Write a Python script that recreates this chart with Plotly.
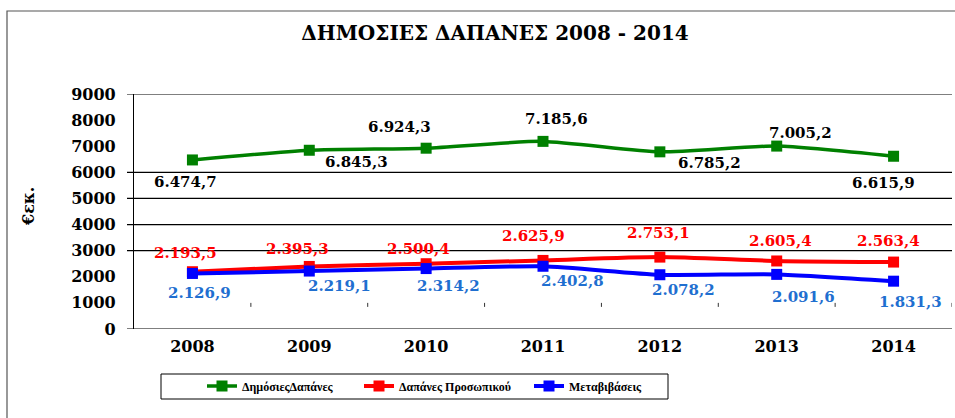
import plotly.graph_objects as go

# ---------------- data ----------------
YEARS = ["2008", "2009", "2010", "2011", "2012", "2013", "2014"]
PUBLIC_SPENDING = [6474.7, 6845.3, 6924.3, 7185.6, 6785.2, 7005.2, 6615.9]
PERSONNEL_COSTS = [2193.5, 2395.3, 2500.4, 2625.9, 2753.1, 2605.4, 2563.4]
TRANSFERS = [2126.9, 2219.1, 2314.2, 2402.8, 2078.2, 2091.6, 1831.3]
Y_TICKS = [0, 1000, 2000, 3000, 4000, 5000, 6000, 7000, 8000, 9000]
GRID_VALUES = [0, 3000, 4000, 5000, 6000, 9000]
SERIES_NAMES = ["ΔημόσιεςΔαπάνες", "Δαπάνες Προσωπικού", "Μεταβιβάσεις"]
TITLE = "ΔΗΜΟΣΙΕΣ ΔΑΠΑΝΕΣ 2008 - 2014"
Y_TITLE = "€εκ."

# ---------------- styling ----------------
W, H = 955, 418
ML, MR, MT, MB = 134, 3, 94, 89
PW = W - ML - MR
PH = H - MT - MB

LINE_COLORS = ["#008000", "#FF0000", "#0000FF"]
LABEL_COLORS = ["#000000", "#FF0000", "#1F6FD0"]
LINE_WIDTHS = [3.5, 4, 4]
SERIF = "DejaVu Serif"

# label pixel offsets (x, y-up) from each point
GREEN_OFFSETS = [(-7, -22), (47, -12), (-27, 21), (13, 22), (50, -11), (24, 13), (-10, -27)]
RED_OFFSETS = [(-7, 19), (-12, 17), (-8, 15), (-10, 24), (-1, 24), (4, 20), (-5, 21)]
BLUE_OFFSETS = [(7, -20), (30, -15), (22, -17), (29, -15), (24, -15), (27, -23), (17, -21)]


def greek_fmt(v):
    s = f"{v:,.1f}"
    return s.replace(",", "#").replace(".", ",").replace("#", ".")


def px_x(p):
    return (p - ML) / PW


def px_y(p):
    return (H - MB - p) / PH


idx = list(range(len(YEARS)))
series = [PUBLIC_SPENDING, PERSONNEL_COSTS, TRANSFERS]
offsets = [GREEN_OFFSETS, RED_OFFSETS, BLUE_OFFSETS]
legend_ids = ["legend", "legend2", "legend3"]

fig = go.Figure()
for k, vals in enumerate(series):
    fig.add_trace(go.Scatter(
        x=idx, y=vals, name=SERIES_NAMES[k], mode="lines+markers",
        line=dict(color=LINE_COLORS[k], width=LINE_WIDTHS[k], shape="spline", smoothing=0.6),
        marker=dict(symbol="square", size=11, color=LINE_COLORS[k]),
        legend=legend_ids[k], hoverinfo="skip",
    ))

annotations = []
for k, vals in enumerate(series):
    for i, v in enumerate(vals):
        dx, dy = offsets[k][i]
        annotations.append(dict(
            x=idx[i], y=v, xref="x", yref="y", text=greek_fmt(v), showarrow=False,
            xshift=dx, yshift=dy,
            font=dict(family=SERIF, size=15, color=LABEL_COLORS[k], weight="bold"),
        ))

# y axis title
annotations.append(dict(
    x=px_x(28), y=px_y(207), xref="paper", yref="paper", text=Y_TITLE, showarrow=False,
    xanchor="center", yanchor="middle",
    textangle=-90, font=dict(family=SERIF, size=16, color="#000", weight="bold"),
))

shapes = []
# gridlines (with outside tick stubs)
for g in GRID_VALUES:
    shapes.append(dict(type="line", xref="paper", yref="y", x0=px_x(127), x1=1, y0=g, y1=g,
                       line=dict(color="#000", width=1.2)))
# small tick marks at category boundaries
for i in idx:
    shapes.append(dict(type="line", xref="x", yref="y", ysizemode="pixel", yanchor=1000,
                       x0=i + 0.5, x1=i + 0.5, y0=0, y1=-4, line=dict(color="#333", width=1)))
# outer chart border
shapes.append(dict(type="rect", xref="paper", yref="paper",
                   x0=px_x(7), x1=px_x(970), y0=px_y(430), y1=px_y(11),
                   line=dict(color="#555", width=1.2), fillcolor="rgba(0,0,0,0)", layer="below"))
# legend box
shapes.append(dict(type="rect", xref="paper", yref="paper",
                   x0=px_x(161), x1=px_x(668), y0=px_y(399), y1=px_y(374),
                   line=dict(color="#000", width=1), fillcolor="rgba(0,0,0,0)"))

legend_font = dict(family="Liberation Serif", size=12, color="#000", weight="bold")
leg_common = dict(orientation="h", yanchor="middle", y=px_y(386), xanchor="left",
                  bgcolor="rgba(0,0,0,0)", borderwidth=0, font=legend_font,
                  itemwidth=30, tracegroupgap=0)

fig.update_layout(
    width=W, height=H,
    margin=dict(l=ML, r=MR, t=MT, b=MB, autoexpand=False),
    paper_bgcolor="white", plot_bgcolor="white",
    title=dict(text=TITLE, x=495 / W, xref="container", xanchor="center",
               y=1 - 33 / H, yref="container", yanchor="middle",
               font=dict(family=SERIF, size=20, color="#000", weight="bold")),
    xaxis=dict(range=[-0.5, len(YEARS) - 0.5], tickvals=idx, ticktext=YEARS,
               showgrid=False, zeroline=False, showline=False, ticks="",
               ticklabelstandoff=6,
               tickfont=dict(family=SERIF, size=16, color="#000", weight="bold"),
               fixedrange=True),
    yaxis=dict(range=[0, 9000], tickvals=Y_TICKS, showgrid=False, zeroline=False,
               showline=True, linecolor="#000", linewidth=1.2, ticks="",
               ticklabelstandoff=14,
               tickfont=dict(family=SERIF, size=16, color="#000", weight="bold"),
               fixedrange=True),
    legend=dict(x=px_x(202), **leg_common),
    legend2=dict(x=px_x(359), **leg_common),
    legend3=dict(x=px_x(529), **leg_common),
    annotations=annotations,
    shapes=shapes,
    showlegend=True,
)

fig.write_html(
    "out.html",
    config={"displayModeBar": False},
    post_script="document.body.style.margin='0';",
)
